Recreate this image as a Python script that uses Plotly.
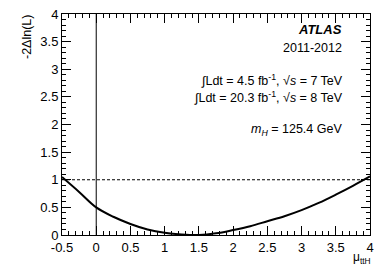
import plotly.graph_objects as go

mu = [-0.5, -0.25, 0.0, 0.25, 0.5, 0.75, 1.0, 1.25, 1.5, 1.75, 2.0, 2.25, 2.5, 2.75, 3.0, 3.25, 3.5, 3.75, 4.0]
nll = [1.05, 0.78, 0.50, 0.33, 0.20, 0.10, 0.04, 0.01, 0.0, 0.03, 0.09, 0.16, 0.25, 0.34, 0.45, 0.58, 0.73, 0.89, 1.06]

x_tickvals = [-0.5, 0, 0.5, 1, 1.5, 2, 2.5, 3, 3.5, 4]
x_ticktext = ["-0.5", "0", "0.5", "1", "1.5", "2", "2.5", "3", "3.5", "4"]
y_tickvals = [0, 0.5, 1, 1.5, 2, 2.5, 3, 3.5, 4]
y_ticktext = ["0", "0.5", "1", "1.5", "2", "2.5", "3", "3.5", "4"]

x_range = [-0.5, 4.0]
y_range = [0.0, 4.0]

FONT = "Liberation Sans, Arial, Helvetica, sans-serif"

fig = go.Figure()
fig.add_trace(go.Scatter(x=mu, y=nll, mode="lines", line=dict(color="black", width=2, shape="spline"),
                         showlegend=False, hoverinfo="skip"))

fig.add_shape(type="line", x0=x_range[0], x1=x_range[1], y0=1, y1=1, xref="x", yref="y",
              line=dict(color="black", width=1, dash="3px,2px"))
fig.add_shape(type="line", x0=0, x1=0, y0=y_range[0], y1=y_range[1], xref="x", yref="y",
              line=dict(color="black", width=1))

axis_common = dict(showgrid=False, zeroline=False, showline=True, linecolor="black", linewidth=1,
                   mirror="ticks", ticks="inside", ticklen=9, tickcolor="black", tickwidth=1,
                   ticklabeloverflow="allow",
                   tickfont=dict(family=FONT, size=13, color="black"),
                   minor=dict(ticks="inside", ticklen=4, tickcolor="black", dtick=0.1, showgrid=False))

fig.update_xaxes(range=x_range, tickmode="array", tickvals=x_tickvals, ticktext=x_ticktext, **axis_common)
fig.update_yaxes(range=y_range, tickmode="array", tickvals=y_tickvals, ticktext=y_ticktext, **axis_common)

def txt(x, y, s, size=12.5, anchor="right", yanchor="middle"):
    fig.add_annotation(x=x, y=y, xref="paper", yref="paper", text=s, showarrow=False,
                       xanchor=anchor, yanchor=yanchor, font=dict(family=FONT, size=size, color="black"))

# paper coords (window pixels): plot x 62..370 (308px), y 14..235 (221px)
def px(xp):
    return (xp - 62) / 308.0
def py(yp):
    return (235 - yp) / 221.0

txt(px(344), py(30), "<b><i>ATLAS</i></b>", size=13)
txt(px(344), py(48), "2011-2012")
txt(px(345), py(80), "∫Ldt = 4.5 fb<sup>-1</sup>, √<i>s</i> = 7 TeV")
txt(px(345), py(97), "∫Ldt = 20.3 fb<sup>-1</sup>, √<i>s</i> = 8 TeV")
txt(px(344), py(130), "<i>m<sub>H</sub></i> = 125.4 GeV")

fig.add_annotation(x=px(27), y=py(13), xref="paper", yref="paper", text="-2Δln(L)", showarrow=False,
                   textangle=-90, xanchor="center", yanchor="top", font=dict(family=FONT, size=12.5, color="black"))
fig.add_annotation(x=px(373), y=py(248), xref="paper", yref="paper", text="μ<sub>ttH</sub>", showarrow=False,
                   xanchor="right", yanchor="top", font=dict(family=FONT, size=12, color="black"))

# the page body has an 8px margin, so the figure is offset by 8px
fig.update_layout(width=382, height=272, margin=dict(l=54, r=20, t=6, b=45, autoexpand=False),
                  paper_bgcolor="white", plot_bgcolor="white", showlegend=False)

fig.write_html("out.html")
